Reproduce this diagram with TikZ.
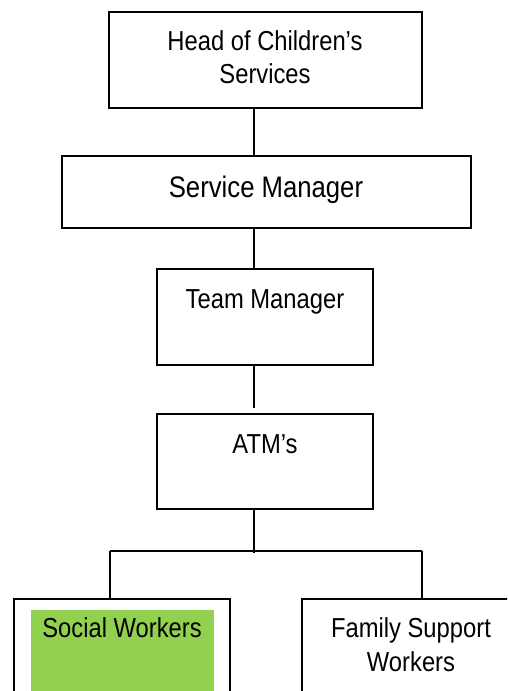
\documentclass[tikz,border=0pt]{standalone}
\usepackage{fontspec}
\setmainfont{Liberation Sans}
\definecolor{boxgreen}{RGB}{146,208,80}
\newcommand{\tallText}[1]{\scalebox{0.97}[1.12]{#1}}
\begin{document}
\begin{tikzpicture}[x=1pt,y=-1pt,
  orgbox/.style={draw=black,line width=2pt,inner sep=0pt,fill=white},
  conn/.style={draw=black,line width=1.7pt},
  lbl/.style={anchor=base,inner sep=0pt,font=\fontsize{24.5}{28}\selectfont},
  biglbl/.style={anchor=base,inner sep=0pt,font=\fontsize{26.5}{30}\selectfont}]
\useasboundingbox (0,0) rectangle (507,691);
\clip (0,0) rectangle (507,691);
\fill[white] (0,0) rectangle (507,691);
% boxes
\node[orgbox,minimum width=313pt,minimum height=96pt] (b1) at (265.5,60) {};
\node[orgbox,minimum width=409pt,minimum height=72pt] (b2) at (266.5,192) {};
\node[orgbox,minimum width=216pt,minimum height=96pt] (b3) at (265,317) {};
\node[orgbox,minimum width=216pt,minimum height=95pt] (b4) at (265,461.5) {};
\node[orgbox,minimum width=216pt,minimum height=130pt] (b5) at (122,664) {};
\node[orgbox,minimum width=230pt,minimum height=130pt] (b6) at (417,664) {};
\node[fill=boxgreen,inner sep=0pt,minimum width=183pt,minimum height=100pt] (g5) at (122.5,660) {};
% texts
\node[lbl] (t1a) at (265,50) {\tallText{Head of Children’s}};
\node[lbl] (t1b) at (265,83) {\tallText{Services}};
\node[biglbl] (t2) at (266,197) {\tallText{Service Manager}};
\node[lbl] (t3) at (265,308) {\tallText{Team Manager}};
\node[lbl] (t4) at (265,453) {\tallText{ATM’s}};
\node[lbl] (t5) at (122,637) {\tallText{Social Workers}};
\node[lbl] (t6a) at (411,637) {\tallText{Family Support}};
\node[lbl] (t6b) at (411,671) {\tallText{Workers}};
% connectors
\coordinate (c34) at (254,408);
\coordinate (jm) at (254,553);
\coordinate (jl) at (110,551);
\coordinate (jr) at (422,551);
\draw[conn] (b1.south -| jm) -- (b2.north -| jm);
\draw[conn] (b2.south -| jm) -- (b3.north -| jm);
\draw[conn] (b3.south -| jm) -- (c34);
\draw[conn] (b4.south -| jm) -- (jm);
\draw[conn] (jl) -- (jr);
\draw[conn] (jl) -- (jl |- b5.north);
\draw[conn] (jr) -- (jr |- b6.north);
\end{tikzpicture}
\end{document}
